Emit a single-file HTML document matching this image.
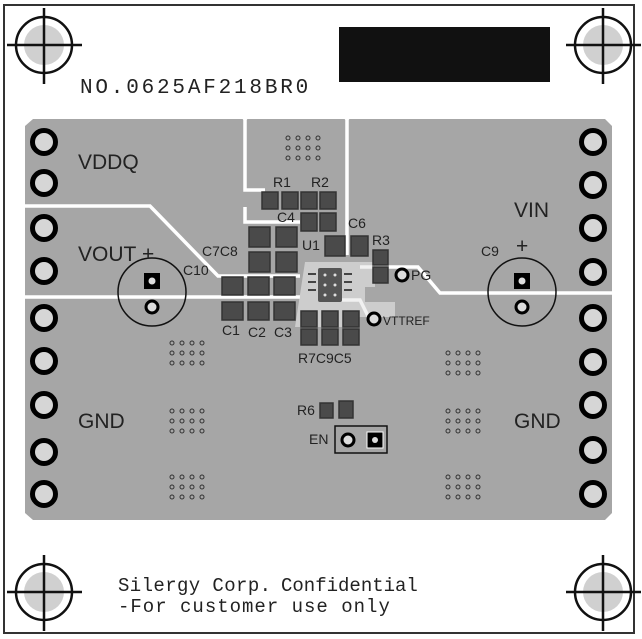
<!DOCTYPE html>
<html><head><meta charset="utf-8"><style>html,body{margin:0;padding:0;background:#fff}svg{display:block}</style></head>
<body>
<svg width="642" height="639" viewBox="0 0 642 639" xmlns="http://www.w3.org/2000/svg" font-family="Liberation Sans, sans-serif">
<rect x="4" y="5" width="630" height="628" fill="#fff" stroke="#333" stroke-width="2"/>
<!-- corner targets -->
<g stroke="#111" stroke-width="2.5">
<g id="t"><circle cx="44" cy="45" r="20" fill="#d0d0d0" stroke="none"/><circle cx="44" cy="45" r="28" fill="none"/><line x1="7" y1="45" x2="82" y2="45"/><line x1="44" y1="8" x2="44" y2="84"/></g>
<use href="#t" x="559"/><use href="#t" y="547"/><use href="#t" x="559" y="547"/>
</g>
<rect x="339" y="27" width="211" height="55" fill="#111"/>
<text x="80" y="93" font-size="21" fill="#222" font-family="Liberation Mono, monospace" letter-spacing="2.8">NO.0625AF218BR0</text>
<!-- copper planes -->
<polygon points="33,119 605,119 612,126 612,513 605,520 33,520 25,513 25,126" fill="#a6a6a6"/>
<g stroke="#fff" stroke-width="3.5" fill="none">
<polyline points="245,117 245,190 265,190"/>
<polyline points="347,117 347,255"/>
<polyline points="20,206 150,206 218,276 300,276"/>
<polyline points="20,297 300,297"/>
<polyline points="245,207 245,222 300,222"/>
<polyline points="360,267 418,267 440,293 620,293"/>
<polyline points="340,300 360,300 370,320"/>
</g>
<polygon points="241,117 249,117 245,122" fill="#fff"/>
<polygon points="343,117 351,117 347,122" fill="#fff"/>
<!-- white area around U1 -->
<path d="M305 262 h70 v25 h-10 v15 h30 v15 h-40 v10 h-60 z" fill="#e8e8e8" opacity="0.6"/>
<rect x="318" y="268" width="24" height="34" rx="2" fill="#555"/>
<g fill="#ddd"><circle cx="325" cy="275" r="1.5"/><circle cx="335" cy="275" r="1.5"/><circle cx="325" cy="285" r="1.5"/><circle cx="335" cy="285" r="1.5"/><circle cx="325" cy="295" r="1.5"/><circle cx="335" cy="295" r="1.5"/></g>
<g stroke="#444" stroke-width="2"><line x1="308" y1="274" x2="316" y2="274"/><line x1="308" y1="282" x2="316" y2="282"/><line x1="308" y1="290" x2="316" y2="290"/><line x1="344" y1="274" x2="352" y2="274"/><line x1="344" y1="282" x2="352" y2="282"/><line x1="344" y1="290" x2="352" y2="290"/></g>
<!-- pins -->
<g fill="#d6d6d6" stroke="#000" stroke-width="5">
<circle cx="44" cy="142" r="11.5"/><circle cx="44" cy="183" r="11.5"/><circle cx="44" cy="228" r="11.5"/><circle cx="44" cy="271" r="11.5"/><circle cx="44" cy="318" r="11.5"/><circle cx="44" cy="361" r="11.5"/><circle cx="44" cy="405" r="11.5"/><circle cx="44" cy="452" r="11.5"/><circle cx="44" cy="494" r="11.5"/>
<circle cx="593" cy="142" r="11.5"/><circle cx="593" cy="185" r="11.5"/><circle cx="593" cy="228" r="11.5"/><circle cx="593" cy="272" r="11.5"/><circle cx="593" cy="318" r="11.5"/><circle cx="593" cy="362" r="11.5"/><circle cx="593" cy="405" r="11.5"/><circle cx="593" cy="450" r="11.5"/><circle cx="593" cy="494" r="11.5"/>
</g>
<!-- electrolytic caps -->
<g fill="none" stroke="#111" stroke-width="1.5"><circle cx="152" cy="292" r="34"/><circle cx="522" cy="292" r="34"/></g>
<g><rect x="144" y="273" width="16" height="16" fill="#000"/><circle cx="152" cy="281" r="3.5" fill="#ddd"/><circle cx="152" cy="307" r="6" fill="#ddd" stroke="#000" stroke-width="3"/>
<rect x="514" y="273" width="16" height="16" fill="#000"/><circle cx="522" cy="281" r="3.5" fill="#ddd"/><circle cx="522" cy="307" r="6" fill="#ddd" stroke="#000" stroke-width="3"/></g>
<!-- pads -->
<g fill="#4a4a4a" stroke="#333" stroke-width="1.5">
<rect x="262" y="192" width="16" height="17"/><rect x="282" y="192" width="16" height="17"/>
<rect x="301" y="192" width="16" height="17"/><rect x="320" y="192" width="16" height="17"/>
<rect x="301" y="213" width="16" height="18"/><rect x="320" y="213" width="16" height="18"/>
<rect x="249" y="227" width="21" height="20"/><rect x="276" y="227" width="21" height="20"/>
<rect x="249" y="252" width="21" height="20"/><rect x="276" y="252" width="21" height="20"/>
<rect x="222" y="277" width="21" height="18"/><rect x="248" y="277" width="21" height="18"/><rect x="274" y="277" width="21" height="18"/>
<rect x="222" y="302" width="21" height="18"/><rect x="248" y="302" width="21" height="18"/><rect x="274" y="302" width="21" height="18"/>
<rect x="325" y="236" width="20" height="20"/><rect x="351" y="236" width="17" height="20"/>
<rect x="373" y="250" width="15" height="15"/><rect x="373" y="267" width="15" height="16"/>
<rect x="301" y="311" width="16" height="16"/><rect x="322" y="311" width="16" height="16"/><rect x="343" y="311" width="16" height="16"/>
<rect x="301" y="329" width="16" height="16"/><rect x="322" y="329" width="16" height="16"/><rect x="343" y="329" width="16" height="16"/>
<rect x="320" y="403" width="13" height="15"/><rect x="339" y="401" width="14" height="17"/>
</g>
<rect x="335" y="426" width="52" height="27" fill="none" stroke="#111" stroke-width="1.5"/>
<circle cx="348" cy="440" r="6" fill="#ddd" stroke="#000" stroke-width="3"/>
<rect x="367" y="432" width="16" height="16" fill="#000" stroke="#fff" stroke-width="1"/><circle cx="375" cy="440" r="3" fill="#ddd"/>
<circle cx="402" cy="275" r="6" fill="#ddd" stroke="#000" stroke-width="3"/>
<circle cx="374" cy="319" r="6" fill="#ddd" stroke="#000" stroke-width="3"/>
<!-- via grids -->
<defs><g id="v" fill="none" stroke="#333" stroke-width="1"><circle cx="0" cy="0" r="2"/><circle cx="10" cy="0" r="2"/><circle cx="20" cy="0" r="2"/><circle cx="30" cy="0" r="2"/><circle cx="0" cy="10" r="2"/><circle cx="10" cy="10" r="2"/><circle cx="20" cy="10" r="2"/><circle cx="30" cy="10" r="2"/><circle cx="0" cy="20" r="2"/><circle cx="10" cy="20" r="2"/><circle cx="20" cy="20" r="2"/><circle cx="30" cy="20" r="2"/></g></defs>
<use href="#v" x="288" y="138"/><use href="#v" x="172" y="343"/><use href="#v" x="172" y="411"/><use href="#v" x="172" y="477"/>
<use href="#v" x="448" y="353"/><use href="#v" x="448" y="411"/><use href="#v" x="448" y="477"/>
<!-- labels -->
<g fill="#222" font-size="21">
<text x="78" y="169">VDDQ</text><text x="78" y="261">VOUT</text><text x="142" y="261">+</text>
<text x="78" y="428">GND</text><text x="514" y="217">VIN</text><text x="514" y="428">GND</text>
<text x="516" y="253">+</text>
</g>
<g fill="#222" font-size="14">
<text x="273" y="187">R1</text><text x="311" y="187">R2</text><text x="277" y="222">C4</text>
<text x="348" y="228">C6</text><text x="372" y="245">R3</text><text x="302" y="250">U1</text>
<text x="202" y="256">C7C8</text><text x="183" y="275">C10</text><text x="481" y="256">C9</text>
<text x="222" y="335">C1</text><text x="248" y="337">C2</text><text x="274" y="337">C3</text>
<text x="298" y="363">R7C9C5</text><text x="297" y="415">R6</text><text x="309" y="444">EN</text>
<text x="411" y="280">PG</text><text x="383" y="325" font-size="12">VTTREF</text>
</g>
<g fill="#222" font-size="19" font-family="Liberation Mono, monospace">
<text x="118" y="591" letter-spacing="0.4">Silergy Corp.</text><text x="281" y="591">Confidential</text>
<text x="118" y="612" letter-spacing="1">-For customer use only</text>
</g>
</svg>
</body></html>
